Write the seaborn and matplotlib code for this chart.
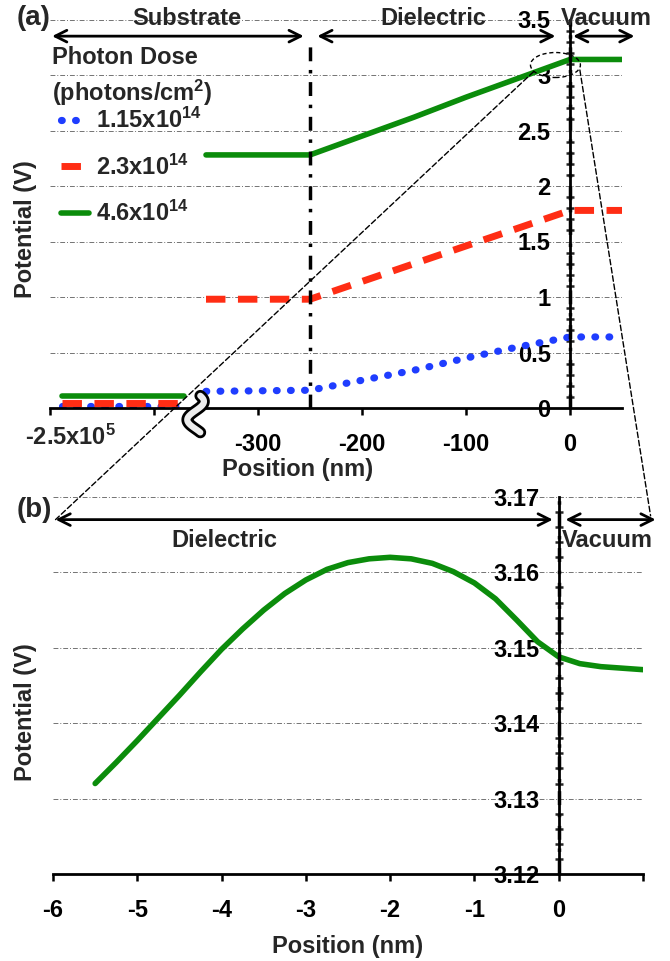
import numpy as np
import pandas as pd
import seaborn as sns
import matplotlib.pyplot as plt
from matplotlib.patches import Ellipse, ConnectionPatch
from matplotlib.lines import Line2D
from matplotlib.ticker import MultipleLocator

# ---- panel (a): potential vs position for three photon doses ----
# substrate stub drawn left of the axis break (stands for -2.5x10^5 nm)
stub_x = [-488, -371]
stub_blue = [0.02, 0.02]
stub_red = [0.045, 0.045]
stub_green = [0.11, 0.11]

pos_a = [-350, -250, -200, -150, -100, -50, 0, 50]
pot_blue = [0.15, 0.16, 0.25, 0.34, 0.45, 0.55, 0.64, 0.64]
pot_red = [0.98, 0.98, 1.14, 1.30, 1.46, 1.62, 1.78, 1.78]
pot_green = [2.28, 2.28, 2.45, 2.62, 2.80, 2.97, 3.14, 3.14]

dose_labels = ["1.15x10$^{14}$", "2.3x10$^{14}$", "4.6x10$^{14}$"]
legend_title = ["Photon Dose", "(photons/cm$^2$)"]
xticks_a = [-500, -400, -300, -200, -100, 0]
xticklabels_a = ["", "", "-300", "-200", "-100", "0"]
yticks_a = [0, 0.5, 1, 1.5, 2, 2.5, 3, 3.5]

# ---- panel (b): zoom near the surface, highest dose ----
pos_b = [-5.5, -5.25, -5.0, -4.75, -4.5, -4.25, -4.0, -3.75, -3.5, -3.25,
         -3.0, -2.75, -2.5, -2.25, -2.0, -1.75, -1.5, -1.25, -1.0, -0.75,
         -0.5, -0.25, 0, 0.25, 0.5, 0.75, 1.0]
pot_b = [3.1320, 3.1348, 3.1377, 3.1407, 3.1437, 3.1468, 3.1498, 3.1525, 3.1550, 3.1572,
         3.1590, 3.1604, 3.1613, 3.1618, 3.1620, 3.1618, 3.1612, 3.1601, 3.1586, 3.1565,
         3.1537, 3.1508, 3.1488, 3.1479, 3.1475, 3.1473, 3.1471]
xticks_b = [-6, -5, -4, -3, -2, -1, 0, 1]
xticklabels_b = ["-6", "-5", "-4", "-3", "-2", "-1", "0", ""]
yticks_b = [3.12, 3.13, 3.14, 3.15, 3.16, 3.17]

substrate_edge = -250
surface = 0

BLUE = "#1f3dff"
RED = "#ff2d14"
GREEN = "#0b8c0b"
FS = 17

sns.set_theme(style="white")
plt.rcParams["font.family"] = ["Liberation Sans", "DejaVu Sans"]
plt.rcParams["font.weight"] = "bold"
plt.rcParams["axes.labelweight"] = "bold"
plt.rcParams["mathtext.fontset"] = "custom"
plt.rcParams["mathtext.rm"] = "Liberation Sans:bold"
plt.rcParams["mathtext.bf"] = "Liberation Sans:bold"
plt.rcParams["mathtext.default"] = "bf"

fig = plt.figure(figsize=(6.7, 9.61), dpi=100)
ax_a = fig.add_axes([50 / 670, 1 - 408 / 961, 572 / 670, 388.5 / 961])
ax_b = fig.add_axes([53 / 670, 1 - 874 / 961, 590 / 670, 377 / 961])

blue_kw = dict(color=BLUE, lw=5.2, linestyle=(0, (0.1, 1.85)), dash_capstyle="round")
red_kw = dict(color=RED, lw=5, linestyle=(0, (2.8, 1.8)))
green_kw = dict(color=GREEN, lw=4)


def style_axis(ax, yticks, xticks, xlabels):
    for side in ["top", "right"]:
        ax.spines[side].set_visible(False)
    ax.spines["left"].set_position(("data", surface))
    ax.spines["left"].set_linewidth(2)
    ax.spines["bottom"].set_linewidth(2)
    ax.spines["left"].set_color("black")
    ax.spines["bottom"].set_color("black")
    ax.set_yticks(yticks)
    ax.set_yticklabels([f"{v:g}" for v in yticks], fontsize=FS)
    ax.set_xticks(xticks)
    ax.set_xticklabels(xlabels, fontsize=FS)
    ax.set_ylim(yticks[0], yticks[-1])
    ax.tick_params(axis="y", which="major", direction="out", length=7, width=1.8, pad=7, colors="black")
    ax.tick_params(axis="y", which="minor", direction="inout", length=6, width=1.8, left=True)
    ax.tick_params(axis="x", direction="out", length=5, width=1.8, pad=13, bottom=True, colors="black")
    ax.yaxis.grid(True, color="0.45", lw=0.7, ls=(0, (5, 2, 1, 2)))
    ax.xaxis.grid(False)
    ax.set_axisbelow(True)


# panel (a)
sns.lineplot(x=stub_x, y=stub_blue, ax=ax_a, **blue_kw)
sns.lineplot(x=stub_x, y=stub_red, ax=ax_a, **red_kw)
sns.lineplot(x=stub_x, y=stub_green, ax=ax_a, **green_kw)
sns.lineplot(x=pos_a, y=pot_blue, ax=ax_a, **blue_kw)
sns.lineplot(x=pos_a, y=pot_red, ax=ax_a, **red_kw)
sns.lineplot(x=pos_a, y=pot_green, ax=ax_a, **green_kw)
ax_a.set_xlim(-500, 50)
style_axis(ax_a, yticks_a, xticks_a, xticklabels_a)
ax_a.yaxis.set_minor_locator(MultipleLocator(0.1))
ax_a.annotate("-2.5x10$^5$", xy=(xticks_a[0], 0), xytext=(15, -21), textcoords="offset points",
              ha="center", va="center", fontsize=FS, annotation_clip=False)
ax_a.set_xlabel("Position (nm)", fontsize=FS)
ax_a.xaxis.set_label_coords(0.432, -0.128)
ax_a.set_ylabel("Potential (V)", fontsize=FS)
ax_a.yaxis.set_label_coords(-0.023, 0.46)

# region boundaries
ax_a.axvline(substrate_edge, ymax=3.3 / 3.5, color="black", lw=2.5, ls=(0, (4, 2.5, 1, 2.5)))
ax_a.axvline(surface, color="black", lw=2.5, ls=(0, (4, 2.5, 1, 2.5)))

arrow = dict(arrowstyle="<->,head_length=0.7,head_width=0.35", lw=2, color="black",
             shrinkA=0, shrinkB=0)
y_arr = 3.35
ax_a.annotate("", xy=(-498, y_arr), xytext=(substrate_edge - 6, y_arr), arrowprops=arrow, annotation_clip=False)
ax_a.annotate("", xy=(substrate_edge + 7, y_arr), xytext=(surface - 14, y_arr), arrowprops=arrow, annotation_clip=False)
ax_a.annotate("", xy=(surface + 3, y_arr), xytext=(62, y_arr), arrowprops=arrow, annotation_clip=False)
ax_a.text(-368, 3.51, "Substrate", ha="center", va="center", fontsize=FS)
ax_a.text(-131, 3.51, "Dielectric", ha="center", va="center", fontsize=FS)
ax_a.text(35, 3.51, "Vacuum", ha="center", va="center", fontsize=FS)

# axis break symbol
t = np.linspace(0, 1, 40)
bx = -360 + 8 * np.sin(2 * np.pi * t + 0.6)
by = 0.11 - 0.33 * t
ax_a.plot(bx, by, color="black", lw=8.5, clip_on=False, zorder=6, solid_capstyle="round")
ax_a.plot(bx, by, color="0.93", lw=4.5, clip_on=False, zorder=7, solid_capstyle="round")

# zoom highlight
ax_a.add_patch(Ellipse((-14, 3.09), 48, 0.225, fill=False, ec="black", lw=1,
                       ls=(0, (3, 2)), clip_on=False, zorder=5))

# legend: title as text, entries as a frameless legend
fig.text(52 / 670, 1 - 58 / 961, legend_title[0], fontsize=FS, ha="left", va="center")
fig.text(52 / 670, 1 - 93 / 961, legend_title[1], fontsize=FS, ha="left", va="center")
handles = [Line2D([], [], **blue_kw), Line2D([], [], **red_kw), Line2D([], [], **green_kw)]
ax_a.legend(handles, dose_labels, loc="upper left", bbox_to_anchor=(61 / 670, 1 - 108 / 961),
            bbox_transform=fig.transFigure, frameon=False,
            prop={"size": FS, "weight": "bold"},
            handlelength=1.2, handletextpad=0.3, labelspacing=0.9,
            borderpad=0, borderaxespad=0)

# panel (b)
sns.lineplot(x=pos_b, y=pot_b, ax=ax_b, **green_kw)
ax_b.set_xlim(-6, 1)
style_axis(ax_b, yticks_b, xticks_b, xticklabels_b)
ax_b.yaxis.set_minor_locator(MultipleLocator(0.002))
ax_b.axvline(surface, color="black", lw=2.5, ls=(0, (4, 2.5, 1, 2.5)))
ax_b.set_xlabel("Position (nm)", fontsize=FS)
ax_b.xaxis.set_label_coords(0.5, -0.163)
ax_b.set_ylabel("Potential (V)", fontsize=FS)
ax_b.yaxis.set_label_coords(-0.027, 0.43)

y_arr_b = 3.167
ax_b.annotate("", xy=(-5.97, y_arr_b), xytext=(surface - 0.07, y_arr_b), arrowprops=arrow, annotation_clip=False)
ax_b.annotate("", xy=(surface + 0.08, y_arr_b), xytext=(1.15, y_arr_b), arrowprops=arrow, annotation_clip=False)
ax_b.text(-3.97, 3.1642, "Dielectric", ha="center", va="center", fontsize=FS)
ax_b.text(0.04, 3.1642, "Vacuum", ha="left", va="center", fontsize=FS)

# connecting zoom lines
for xa, ya, xb, yb in [(-35, 3.03, -5.97, 3.167), (9.5, 3.045, 1.09, 3.1675)]:
    con = ConnectionPatch(xyA=(xa, ya), coordsA=ax_a.transData, xyB=(xb, yb),
                          coordsB=ax_b.transData, color="black", lw=1, ls=(0, (4, 2)))
    fig.add_artist(con)

fig.text(17 / 670, 1 - 18 / 961, "(a)", fontsize=20, ha="left", va="center")
fig.text(17 / 670, 1 - 510 / 961, "(b)", fontsize=20, ha="left", va="center")

fig.savefig("out.png", dpi=100)
